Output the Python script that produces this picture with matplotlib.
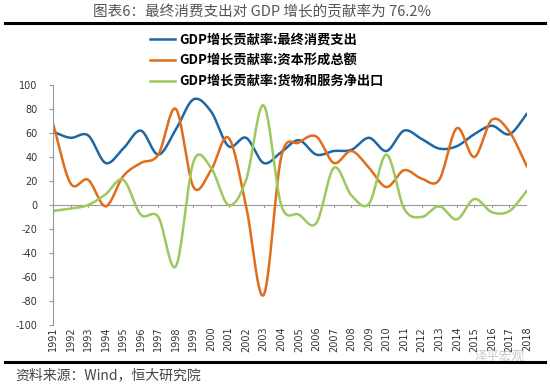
import numpy as np
import matplotlib
matplotlib.use("Agg")
import matplotlib.pyplot as plt
from matplotlib.lines import Line2D

plt.rcParams['font.family'] = ['Noto Sans CJK SC', 'DejaVu Sans']

years = list(range(1991, 2019))
consumption = [61, 56, 58, 35, 47, 62, 42, 63, 88, 78, 49, 56, 35, 44, 54, 42, 45, 46, 56, 45,
               62, 55, 47, 49, 59, 66, 59, 76.2]
capital = [68, 18, 21, -1, 24, 35, 42, 80, 15, 29, 56, -1, -75, 40, 52, 57, 35, 45, 31, 15,
           29, 22, 21, 64, 40, 71, 61, 32]
net_exports = [-5, -3, 0, 9, 21, -8, -10, -51, 36, 31, 0, 21, 83, 0, -8, -15, 31, 8, 1, 42,
               -3, -10, -1, -12, 5, -6, -5, 12]
labels = ["GDP增长贡献率:最终消费支出", "GDP增长贡献率:资本形成总额", "GDP增长贡献率:货物和服务净出口"]
colors = ["#1F67A3", "#E06C1C", "#9CC85E"]
yticks = list(range(-100, 101, 20))


def smooth(x, y, n=20):
    x = np.asarray(x, float)
    y = np.asarray(y, float)
    px = np.concatenate([[2 * x[0] - x[1]], x, [2 * x[-1] - x[-2]]])
    py = np.concatenate([[2 * y[0] - y[1]], y, [2 * y[-1] - y[-2]]])
    xs, ys = [], []
    t = np.linspace(0, 1, n, endpoint=False)
    for i in range(1, len(px) - 2):
        def cr(a0, a1, a2, a3):
            return 0.5 * ((2 * a1) + (-a0 + a2) * t + (2 * a0 - 5 * a1 + 4 * a2 - a3) * t ** 2
                          + (-a0 + 3 * a1 - 3 * a2 + a3) * t ** 3)
        xs.append(cr(px[i - 1], px[i], px[i + 1], px[i + 2]))
        ys.append(cr(py[i - 1], py[i], py[i + 1], py[i + 2]))
    xs.append([x[-1]])
    ys.append([y[-1]])
    return np.concatenate(xs), np.concatenate(ys)


fig = plt.figure(figsize=(5.5, 3.84), dpi=100)
ax = fig.add_axes([53 / 550, 1 - 325 / 384, 474 / 550, 240 / 384])

for series, c in zip([consumption, capital, net_exports], colors):
    sx, sy = smooth(years, series)
    ax.plot(sx, sy, color=c, lw=1.8, solid_capstyle='round')

ax.set_xlim(1991, 2018)
ax.set_ylim(-100, 100)
ax.set_yticks(yticks)
ax.set_yticklabels([str(v) for v in yticks], fontsize=7, color="#333333", family='DejaVu Sans')
for s in ['top', 'right', 'bottom']:
    ax.spines[s].set_visible(False)
ax.spines['left'].set_color('#999999')
ax.spines['left'].set_linewidth(0.8)
ax.tick_params(axis='y', length=3, color='#999999', pad=8)
ax.axhline(0, color='#999999', lw=0.8, zorder=0)
ax.set_xticks(years)
ax.set_xticklabels([])
ax.tick_params(axis='x', length=0)
for yr in years:
    ax.plot([yr, yr], [0, -1.8], color='#999999', lw=0.7, zorder=0)
    ax.text(yr, -101.5, str(yr), rotation=90, ha='center', va='top', fontsize=7,
            color='#333333', family='DejaVu Sans')

handles = [Line2D([0], [0], color=c, lw=1.8) for c in colors]
leg = fig.legend(handles, labels, loc='upper left', bbox_to_anchor=(150 / 550, 1 - 33 / 384),
                 frameon=False, prop={'size': 9.5, 'weight': 'bold'}, handlelength=1.9,
                 handletextpad=0.3, labelspacing=0.5, borderaxespad=0, borderpad=0)

fig.text(262 / 550, 1 - 12 / 384, "图表6：最终消费支出对 GDP 增长的贡献率为 76.2%", ha='center', va='center',
         fontsize=10.5, color='#555555')
fig.add_artist(Line2D([5 / 550, 545 / 550], [1 - 23 / 384, 1 - 23 / 384], color='black', lw=2.2))
fig.add_artist(Line2D([5 / 550, 545 / 550], [1 - 362 / 384, 1 - 362 / 384], color='black', lw=2.2))
fig.text(15 / 550, 1 - 375 / 384, "资料来源：Wind，恒大研究院", ha='left', va='center',
         fontsize=10, color='#444444', style='italic')
fig.text(500 / 550, 1 - 356 / 384, "泽平宏观", ha='center', va='center', fontsize=9,
         color='#bbbbbb', alpha=0.8)

fig.savefig("out.png", dpi=100)
